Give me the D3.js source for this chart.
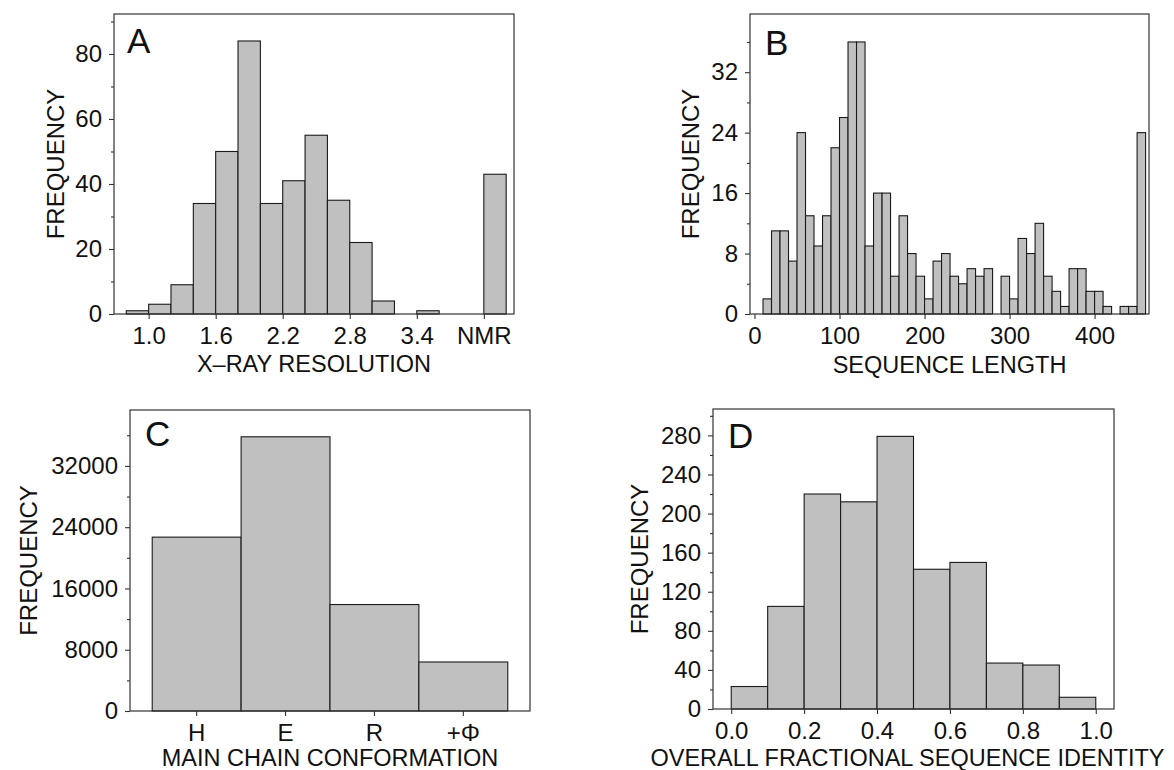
<!DOCTYPE html>
<html>
<head>
<meta charset="utf-8">
<script src="https://cdn.jsdelivr.net/npm/d3@7"></script>
<style>
  body { margin: 0; background: #fff; }
  svg text { font-family: "Liberation Sans", Arial, sans-serif; fill: #111; }
</style>
</head>
<body>
<script>
// ---- data ----
// A: x-ray resolution, bins of 0.2 starting at binStart, plus one NMR bar
const resBinStart = [0.8, 1.0, 1.2, 1.4, 1.6, 1.8, 2.0, 2.2, 2.4, 2.6, 2.8, 3.0, 3.2, 3.4];
const resCounts   = [1, 3, 9, 34, 50, 84, 34, 41, 55, 35, 22, 4, 0, 1];
const nmrCount = 43;
const resTicks = [1.0, 1.6, 2.2, 2.8, 3.4, 4.0];
const resTickLabels = ["1.0", "1.6", "2.2", "2.8", "3.4", "NMR"];

// B: sequence length, bins of 10 starting at 0
const lenCounts = [0, 2, 11, 11, 7, 24, 13, 9, 13, 22, 26, 36, 36, 9, 16, 16, 5, 13, 8, 5,
                   2, 7, 8, 5, 4, 6, 5, 6, 0, 5, 2, 10, 8, 12, 5, 3, 1, 6, 6, 3,
                   3, 1, 0, 1, 1, 24];
const lenTicks = [0, 100, 200, 300, 400];

// C: main chain conformation
const confCats = ["H", "E", "R", "+\u03A6"];
const confCounts = [22700, 35800, 13900, 6400];

// D: overall fractional sequence identity, bins of 0.1
const idCounts = [23, 105, 220, 212, 279, 143, 150, 47, 45, 12];
const idTicks = [0.0, 0.2, 0.4, 0.6, 0.8, 1.0];

const svg = d3.select("body").append("svg")
    .attr("width", 1174).attr("height", 770);

const barFill = "#c0c0c0";
const ink = "#1a1a1a";

// draws bars, frame, axes and labels for one panel
function drawPanel(p) {
    const g = svg.append("g");
    const y = d3.scaleLinear().domain([0, p.yMax]).range([p.frame.y1, p.frame.y0]);

    g.selectAll("rect.bar")
        .data(p.bars.filter(d => d.v > 0))
        .join("rect")
        .attr("class", "bar")
        .attr("x", d => d.l)
        .attr("width", d => d.r - d.l)
        .attr("y", d => y(d.v))
        .attr("height", d => y(0) - y(d.v))
        .attr("fill", barFill)
        .attr("stroke", ink)
        .attr("stroke-width", 1.1);

    // frame
    g.append("rect")
        .attr("x", p.frame.x0).attr("y", p.frame.y0)
        .attr("width", p.frame.x1 - p.frame.x0)
        .attr("height", p.frame.y1 - p.frame.y0)
        .attr("fill", "none").attr("stroke", "#333").attr("stroke-width", 1.2);

    // y axis, major + minor
    const yAx = g.append("g").attr("transform", `translate(${p.frame.x0},0)`)
        .call(d3.axisLeft(y).tickValues(p.yTicks).tickFormat(d3.format("d"))
            .tickSize(5).tickSizeOuter(0).tickPadding(7));
    const yMinor = g.append("g").attr("transform", `translate(${p.frame.x0},0)`)
        .call(d3.axisLeft(y).tickValues(p.yMinor).tickSize(3).tickFormat(""));
    [yAx, yMinor].forEach(a => {
        a.select(".domain").remove();
        a.selectAll("line").attr("stroke", "#333").attr("stroke-width", 1.1);
    });
    yAx.selectAll("text").attr("font-size", 24).attr("fill", ink);

    // x axis
    const xAx = g.append("g").attr("transform", `translate(0,${p.frame.y1})`)
        .call(p.xAxis.tickSize(5).tickSizeOuter(0).tickPadding(8));
    xAx.select(".domain").remove();
    xAx.selectAll("line").attr("stroke", "#333").attr("stroke-width", 1.1);
    xAx.selectAll("text").attr("font-size", 24).attr("fill", ink);

    // titles
    g.append("text")
        .attr("x", (p.frame.x0 + p.frame.x1) / 2 + (p.xTitleDx || 0)).attr("y", p.xTitleY)
        .attr("text-anchor", "middle").attr("font-size", 23.5)
        .text(p.xTitle);
    g.append("text")
        .attr("transform", `translate(${p.yTitleX},${(p.frame.y0 + p.frame.y1) / 2}) rotate(-90)`)
        .attr("text-anchor", "middle").attr("font-size", 24)
        .text("FREQUENCY");
    g.append("text")
        .attr("x", p.frame.x0 + p.letterDx).attr("y", p.frame.y0 + p.letterDy)
        .attr("font-size", 35)
        .text(p.letter);
}

// ---- A ----
{
    const frame = {x0: 114, x1: 514, y0: 14, y1: 314};
    const x = d3.scaleLinear().domain([0.69, 4.27]).range([frame.x0, frame.x1]);
    const bars = resBinStart.map((s, i) => ({l: x(s), r: x(s + 0.2), v: resCounts[i]}));
    bars.push({l: x(4.0), r: x(4.2), v: nmrCount});
    drawPanel({
        frame, bars, yMax: 92.3,
        yTicks: [0, 20, 40, 60, 80], yMinor: [10, 30, 50, 70, 90],
        xAxis: d3.axisBottom(x).tickValues(resTicks).tickFormat((d, i) => resTickLabels[i]),
        xTitle: "X\u2013RAY RESOLUTION", xTitleY: 372, yTitleX: 64,
        letter: "A", letterDx: 13, letterDy: 39
    });
}

// ---- B ----
{
    const frame = {x0: 750, x1: 1149, y0: 14, y1: 314};
    const x = d3.scaleLinear().domain([-5.3, 464]).range([frame.x0, frame.x1]);
    const bars = lenCounts.map((v, i) => ({l: x(i * 10), r: x(i * 10 + 10), v}));
    drawPanel({
        frame, bars, yMax: 39.7,
        yTicks: [0, 8, 16, 24, 32], yMinor: [4, 12, 20, 28, 36],
        xAxis: d3.axisBottom(x).tickValues(lenTicks).tickFormat(d3.format("d")),
        xTitle: "SEQUENCE LENGTH", xTitleY: 373, yTitleX: 699,
        letter: "B", letterDx: 15, letterDy: 41
    });
}

// ---- C ----
{
    const frame = {x0: 130, x1: 530, y0: 410, y1: 711};
    const x = d3.scaleBand().domain(confCats).range([frame.x0, frame.x1])
        .paddingInner(0).paddingOuter(0.25);
    const bars = confCats.map((c, i) => ({l: x(c), r: x(c) + x.bandwidth(), v: confCounts[i]}));
    drawPanel({
        frame, bars, yMax: 39300,
        yTicks: [0, 8000, 16000, 24000, 32000], yMinor: [4000, 12000, 20000, 28000, 36000],
        xAxis: d3.axisBottom(x),
        xTitle: "MAIN CHAIN CONFORMATION", xTitleY: 766, yTitleX: 37,
        letter: "C", letterDx: 15, letterDy: 36
    });
}

// ---- D ----
{
    const frame = {x0: 713, x1: 1114, y0: 409, y1: 709};
    const x = d3.scaleLinear().domain([-0.05, 1.05]).range([frame.x0, frame.x1]);
    const bars = idCounts.map((v, i) => ({l: x(i / 10), r: x((i + 1) / 10), v}));
    drawPanel({
        frame, bars, yMax: 307,
        yTicks: [0, 40, 80, 120, 160, 200, 240, 280], yMinor: [20, 60, 100, 140, 180, 220, 260, 300],
        xAxis: d3.axisBottom(x).tickValues(idTicks).tickFormat(d3.format(".1f")),
        xTitle: "OVERALL FRACTIONAL SEQUENCE IDENTITY", xTitleY: 766, xTitleDx: -6, yTitleX: 648,
        letter: "D", letterDx: 15, letterDy: 39
    });
}
</script>
</body>
</html>
